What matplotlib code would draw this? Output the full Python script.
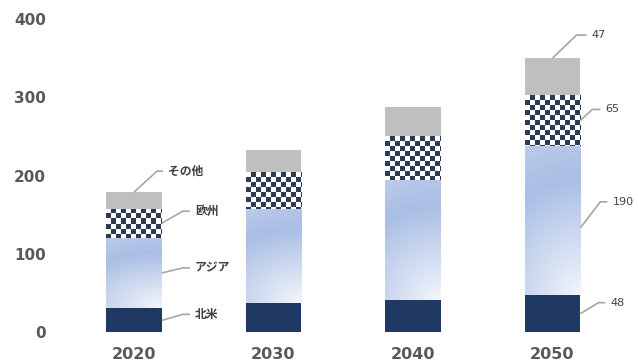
import numpy as np
import matplotlib.pyplot as plt
from matplotlib.colors import LinearSegmentedColormap

# stacked totals by region (2050 values are the labelled ones)
years = ['2020', '2030', '2040', '2050']
north_america = [31, 37, 42, 48]
asia = [90, 121, 153, 190]
europe = [37, 47, 56, 65]
other = [21, 28, 37, 47]
region_names = ['北米', 'アジア', '欧州', 'その他']
yticks = [0, 100, 200, 300, 400]

navy = '#1F3864'
checker_dark = '#2C3A56'
grey = '#BFBFBF'
text_grey = '#595959'
line_grey = '#A6A6A6'

fig = plt.figure(figsize=(6.38, 3.62), dpi=100)
ax = fig.add_axes([0.1007, 0.0815, 0.8746, 0.8663])

x = np.arange(len(years))
width = 0.4
ax.set_xlim(-0.5, len(years) - 0.5)
ax.set_ylim(0, 400)

series = [north_america, asia, europe, other]
bottoms = np.zeros(len(years))
bars = []
for vals in series:
    b = ax.bar(x, vals, width, bottom=bottoms, color='none', edgecolor='none', zorder=2)
    bars.append((b, bottoms.copy(), np.array(vals, dtype=float)))
    bottoms = bottoms + np.array(vals)

# pixel size of one data unit
px_x = ax.transData.transform((1, 0))[0] - ax.transData.transform((0, 0))[0]
px_y = ax.transData.transform((0, 1))[1] - ax.transData.transform((0, 0))[1]

asia_cmap = LinearSegmentedColormap.from_list(
    'asia', [(0, '#F3F6FC'), (0.72, '#A9BEE4'), (1, '#BBCBEA')])
chk_cmap = LinearSegmentedColormap.from_list('chk', ['white', checker_dark])

for i, (b, bot, vals) in enumerate(bars):
    for j, rect in enumerate(b):
        x0 = x[j] - width / 2
        x1 = x[j] + width / 2
        y0 = bot[j]
        y1 = bot[j] + vals[j]
        if i == 0:
            rect.set_facecolor(navy)
        elif i == 3:
            rect.set_facecolor(grey)
        elif i == 1:
            # soft gradient fading to white at the lower right corner
            h = 120
            w = 40
            yy, xx = np.mgrid[0:h, 0:w]
            u = (h - 1 - yy) / (h - 1)
            v = (w - 1 - xx) / (w - 1)
            d = np.sqrt(u ** 2 + (0.45 * v) ** 2) / 1.1
            img = ax.imshow(d, cmap=asia_cmap, vmin=0, vmax=1, origin='upper',
                            extent=(x0, x1, y0, y1), aspect='auto',
                            interpolation='bilinear', zorder=2)
            img.set_clip_path(rect)
        elif i == 2:
            # checkerboard of ~5px cells
            cell = 5.0
            nx = int(np.ceil(width * px_x / cell))
            ny = int(np.ceil(vals[j] * px_y / cell))
            board = (np.add.outer(np.arange(ny), np.arange(nx)) % 2).astype(float)
            img = ax.imshow(board, cmap=chk_cmap, vmin=0, vmax=1, origin='upper',
                            extent=(x0, x0 + nx * cell / px_x, y1 - ny * cell / px_y, y1),
                            aspect='auto', interpolation='nearest', zorder=2)
            img.set_clip_path(rect)

ax.set_xlim(-0.5, len(years) - 0.5)
ax.set_ylim(0, 400)


def leader(xa, ya, dx, dy, h, label, **kw):
    ax_px = ax.transData.transform((xa, ya))
    pts = np.array([ax_px, ax_px + (dx, dy), ax_px + (dx + h, dy)])
    data = ax.transData.inverted().transform(pts)
    ax.plot(data[:, 0], data[:, 1], color=line_grey, lw=1.2, zorder=3,
            solid_capstyle='butt', clip_on=False)
    tx = ax.transData.inverted().transform(ax_px + (dx + h + 5, dy))
    ax.text(tx[0], tx[1], label, ha='left', va='center', color='#404040',
            clip_on=False, **kw)


# region names next to the first bar: (anchor height fraction, dx, dy, h)
name_pos = [(0.5, 21, 6, 7), (0.5, 21, 5, 7), (0.5, 21, 12, 7), (None, 23, 21, 6)]
# values next to the last bar
value_pos = [(0.5, 18, 11, 7), (0.45, 20, 26, 7), (0.5, 12, 11, 8), (None, 24, 23, 10)]

cjk = dict(family=['Noto Sans CJK JP', 'DejaVu Sans'], fontsize=8.5, fontweight='bold')
num = dict(family='DejaVu Sans', fontsize=8)

for k, (b, bot, vals) in enumerate(bars):
    for j, labels, pos, kw in [(0, region_names, name_pos, cjk),
                               (len(years) - 1, None, value_pos, num)]:
        frac, dx, dy, h = pos[k]
        if frac is None:
            xa, ya = x[j], bot[j] + vals[j]
        else:
            xa, ya = x[j] + width / 2, bot[j] + frac * vals[j]
        text = labels[k] if labels else '{:d}'.format(int(vals[j]))
        leader(xa, ya, dx, dy, h, text, **kw)

ax.set_xticks(x)
ax.set_xticklabels(years)
ax.set_yticks(yticks)
for lab in ax.get_xticklabels():
    lab.set_fontsize(11.5)
for lab in ax.get_yticklabels():
    lab.set_fontsize(11)
for lab in ax.get_xticklabels() + ax.get_yticklabels():
    lab.set_fontweight('bold')
    lab.set_color(text_grey)
ax.tick_params(axis='x', length=0, pad=10.5)
ax.tick_params(axis='y', length=0, pad=13)
for s in ax.spines.values():
    s.set_visible(False)

fig.savefig('out.png', dpi=100)
